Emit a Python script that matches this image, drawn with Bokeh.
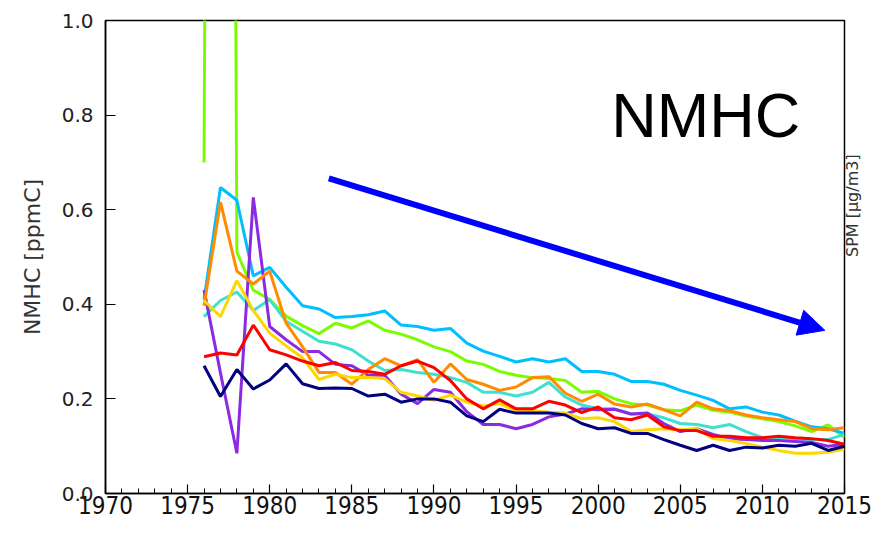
import math
from bokeh.plotting import figure
from bokeh.models import (Range1d, FixedTicker, PrintfTickFormatter, Label, Arrow,
                          NormalHead, LinearAxis)
from bokeh.embed import file_html
from bokeh.resources import INLINE

years = list(range(1976, 2016))

green = [0.70, 8.0, 0.51, 0.43, 0.41, 0.375, 0.355, 0.338, 0.36, 0.35,
         0.365, 0.345, 0.337, 0.325, 0.31, 0.30, 0.28, 0.273, 0.258, 0.25,
         0.245, 0.243, 0.239, 0.214, 0.216, 0.20, 0.19, 0.187, 0.177, 0.175,
         0.187, 0.176, 0.172, 0.164, 0.158, 0.152, 0.143, 0.131, 0.145, 0.118]
skyblue = [0.41, 0.647, 0.62, 0.46, 0.478, 0.436, 0.397, 0.39, 0.372, 0.374,
           0.378, 0.386, 0.356, 0.353, 0.345, 0.349, 0.318, 0.301, 0.29, 0.278,
           0.285, 0.278, 0.285, 0.258, 0.258, 0.252, 0.237, 0.237, 0.231, 0.218,
           0.208, 0.197, 0.179, 0.183, 0.172, 0.166, 0.153, 0.141, 0.137, 0.127]
turquoise = [0.374, 0.408, 0.426, 0.387, 0.41, 0.364, 0.343, 0.322, 0.316, 0.304,
             0.28, 0.26, 0.262, 0.256, 0.252, 0.245, 0.235, 0.214, 0.214, 0.206,
             0.214, 0.235, 0.204, 0.187, 0.179, 0.179, 0.168, 0.168, 0.16, 0.148,
             0.146, 0.139, 0.146, 0.131, 0.118, 0.118, 0.116, 0.114, 0.114, 0.125]
purple = [0.43, 0.255, 0.085, 0.626, 0.353, 0.325, 0.30, 0.30, 0.273, 0.27,
          0.25, 0.25, 0.21, 0.19, 0.22, 0.214, 0.173, 0.146, 0.146, 0.137,
          0.146, 0.162, 0.168, 0.179, 0.177, 0.178, 0.168, 0.17, 0.148, 0.131,
          0.137, 0.125, 0.116, 0.114, 0.112, 0.112, 0.11, 0.108, 0.10, 0.104]
orange = [0.397, 0.616, 0.47, 0.443, 0.47, 0.36, 0.31, 0.256, 0.256, 0.231,
          0.262, 0.285, 0.27, 0.283, 0.235, 0.274, 0.241, 0.231, 0.218, 0.225,
          0.245, 0.247, 0.212, 0.195, 0.21, 0.189, 0.183, 0.189, 0.177, 0.164,
          0.193, 0.179, 0.175, 0.166, 0.16, 0.156, 0.152, 0.137, 0.135, 0.139]
gold = [0.408, 0.374, 0.45, 0.387, 0.339, 0.312, 0.287, 0.241, 0.252, 0.245,
        0.245, 0.243, 0.214, 0.206, 0.197, 0.208, 0.193, 0.185, 0.19, 0.175,
        0.175, 0.172, 0.17, 0.158, 0.16, 0.152, 0.131, 0.135, 0.137, 0.135,
        0.137, 0.116, 0.112, 0.106, 0.098, 0.091, 0.085, 0.085, 0.087, 0.094]
red = [0.289, 0.297, 0.293, 0.356, 0.304, 0.293, 0.28, 0.27, 0.277, 0.26,
       0.258, 0.252, 0.27, 0.28, 0.266, 0.239, 0.20, 0.179, 0.198, 0.179,
       0.179, 0.195, 0.187, 0.171, 0.183, 0.16, 0.156, 0.166, 0.141, 0.133,
       0.133, 0.121, 0.121, 0.118, 0.118, 0.121, 0.118, 0.116, 0.112, 0.104]
navy = [0.27, 0.205, 0.262, 0.221, 0.24, 0.274, 0.232, 0.222, 0.223, 0.222,
        0.206, 0.21, 0.193, 0.20, 0.20, 0.193, 0.164, 0.152, 0.178, 0.17,
        0.17, 0.17, 0.166, 0.148, 0.137, 0.139, 0.127, 0.127, 0.114, 0.102,
        0.091, 0.102, 0.091, 0.098, 0.096, 0.102, 0.10, 0.106, 0.091, 0.10]

series = [
    (green, "#7CFC00"),
    (skyblue, "#00BFFF"),
    (turquoise, "#40E0D0"),
    (purple, "#8A2BE2"),
    (orange, "#FF8C00"),
    (gold, "#FFD700"),
    (red, "#FF0000"),
    (navy, "#000080"),
]

x_ticks = [1970, 1975, 1980, 1985, 1990, 1995, 2000, 2005, 2010, 2015]
y_ticks = [0.0, 0.2, 0.4, 0.6, 0.8, 1.0]

arrow_start = (1983.6, 0.666)
arrow_end = (2013.8, 0.345)
title_text = "NMHC"
title_pos = (2000.8, 0.801)
y_label = "NMHC [ppmC]"
right_label = "SPM [μg/m3]"

p = figure(width=874, height=519, output_backend="svg", toolbar_location=None,
           x_range=Range1d(1970, 2015), y_range=Range1d(0, 1.0),
           min_border_left=105, min_border_right=24, min_border_top=20, min_border_bottom=26)
p.background_fill_color = "white"
p.border_fill_color = "white"
p.grid.visible = False
p.outline_line_color = "black"
p.outline_line_width = 1.5

for vals, col in series:
    p.line(years, vals, line_color=col, line_width=3)

xa = p.xaxis[0]
xa.ticker = FixedTicker(ticks=x_ticks, minor_ticks=list(range(1970, 2016)))
xa.major_tick_in = 9
xa.major_tick_out = 0
xa.minor_tick_in = 5
xa.minor_tick_out = 0
xa.axis_line_width = 1.5
xa.major_tick_line_width = 1.2
xa.minor_tick_line_width = 1.0
xa.major_label_text_font = "'DejaVu Sans Condensed', 'Liberation Sans'"
xa.major_label_text_font_size = "24px"
xa.major_label_text_line_height = 1.0
xa.major_label_text_color = "#111111"
xa.major_label_standoff = 2

ya = p.yaxis[0]
ya.ticker = FixedTicker(ticks=y_ticks)
ya.formatter = PrintfTickFormatter(format="%.1f")
ya.major_tick_in = 10
ya.major_tick_out = 0
ya.minor_tick_line_color = None
ya.axis_line_width = 1.5
ya.major_tick_line_width = 1.2
ya.major_label_text_font = "DejaVu Sans"
ya.major_label_text_font_size = "20px"
ya.major_label_text_color = "#222222"
ya.major_label_standoff = 12
ya.axis_label = y_label
ya.axis_label_text_font = "DejaVu Sans"
ya.axis_label_text_font_size = "22px"
ya.axis_label_text_font_style = "normal"
ya.axis_label_text_color = "#333333"
ya.axis_label_standoff = 14

ra = LinearAxis(ticker=FixedTicker(ticks=[]), axis_label=right_label,
                axis_line_color=None, major_tick_line_color=None,
                minor_tick_line_color=None, major_label_standoff=0,
                major_tick_in=0, major_tick_out=0, minor_tick_in=0, minor_tick_out=0,
                axis_label_standoff=8, axis_label_orientation=math.pi / 2,
                axis_label_text_font="DejaVu Sans", axis_label_text_font_size="16px",
                axis_label_text_font_style="normal", axis_label_text_color="#333333")
p.add_layout(ra, "right")

p.add_layout(Arrow(end=NormalHead(size=26, fill_color="#0000FF", line_color="#0000FF"),
                   x_start=arrow_start[0], y_start=arrow_start[1],
                   x_end=arrow_end[0], y_end=arrow_end[1],
                   line_color="#0000FF", line_width=6))

p.add_layout(Label(x=title_pos[0], y=title_pos[1], text=title_text,
                   text_font="Liberation Sans", text_font_size="63px",
                   text_color="black", text_baseline="alphabetic"))

open("out.html", "w").write(file_html(p, INLINE))
